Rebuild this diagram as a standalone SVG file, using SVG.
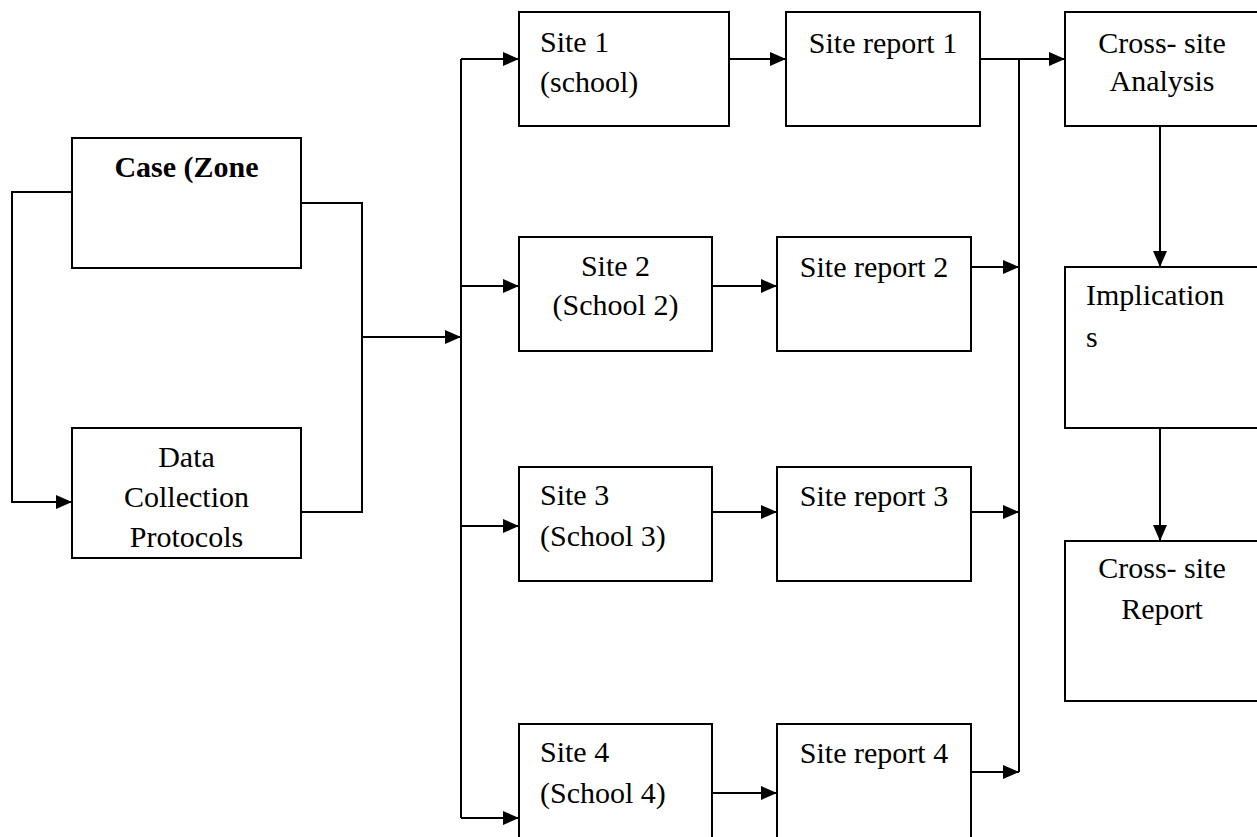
<svg xmlns="http://www.w3.org/2000/svg" width="1257" height="837" viewBox="0 0 1257 837">
<style>
.box{fill:#fff;stroke:#000;stroke-width:2}
.t{font-family:"Liberation Serif","Times New Roman",serif;font-size:30px;fill:#000}
.c{text-anchor:middle}
.b{font-weight:bold}
.ln{fill:none;stroke:#000;stroke-width:2}
.ar{fill:none;stroke:#000;stroke-width:2;marker-end:url(#ah)}
</style>
<defs>
<marker id="ah" viewBox="0 0 16 14" markerWidth="16" markerHeight="14" markerUnits="userSpaceOnUse" refX="16" refY="7" orient="auto">
<path d="M0,0 L16,7 L0,14 z" fill="#000"/>
</marker>
</defs>
<rect width="1257" height="837" fill="#fff"/>
<g id="connectors">
<path class="ar" d="M72,192 H12 V502 H72"/>
<path class="ln" d="M301,203 H362 V512 H301"/>
<path class="ar" d="M362,337 H461"/>
<path class="ln" d="M461,59 V818"/>
<path class="ar" d="M461,59 H519"/>
<path class="ar" d="M461,286 H519"/>
<path class="ar" d="M461,526 H519"/>
<path class="ar" d="M461,818 H519"/>
<path class="ar" d="M729,59 H786"/>
<path class="ar" d="M712,286 H777"/>
<path class="ar" d="M712,512 H777"/>
<path class="ar" d="M712,793 H777"/>
<path class="ar" d="M980,59 H1065"/>
<path class="ln" d="M1019,59 V772"/>
<path class="ar" d="M971,267 H1019"/>
<path class="ar" d="M971,512 H1019"/>
<path class="ar" d="M971,772 H1019"/>
<path class="ar" d="M1160,126 V267"/>
<path class="ar" d="M1160,428 V541"/>
</g>
<g id="case">
<rect class="box" x="72" y="138" width="229" height="130"/>
<text class="t c b" x="186.5" y="177">Case (Zone</text>
</g>
<g id="protocols">
<rect class="box" x="72" y="428" width="229" height="130"/>
<text class="t c" x="186.5" y="467">Data</text>
<text class="t c" x="186.5" y="507">Collection</text>
<text class="t c" x="186.5" y="547">Protocols</text>
</g>
<g id="site1">
<rect class="box" x="519" y="12" width="210" height="114"/>
<text class="t" x="540" y="52">Site 1</text>
<text class="t" x="540" y="92">(school)</text>
</g>
<g id="site2">
<rect class="box" x="519" y="237" width="193" height="114"/>
<text class="t c" x="615.5" y="276">Site 2</text>
<text class="t c" x="615.5" y="315">(School 2)</text>
</g>
<g id="site3">
<rect class="box" x="519" y="467" width="193" height="114"/>
<text class="t" x="540" y="505">Site 3</text>
<text class="t" x="540" y="546">(School 3)</text>
</g>
<g id="site4">
<rect class="box" x="519" y="724" width="193" height="120"/>
<text class="t" x="540" y="762">Site 4</text>
<text class="t" x="540" y="803">(School 4)</text>
</g>
<g id="report1">
<rect class="box" x="786" y="12" width="194" height="114"/>
<text class="t c" x="883" y="53">Site report 1</text>
</g>
<g id="report2">
<rect class="box" x="777" y="237" width="194" height="114"/>
<text class="t c" x="874" y="277">Site report 2</text>
</g>
<g id="report3">
<rect class="box" x="777" y="467" width="194" height="114"/>
<text class="t c" x="874" y="506">Site report 3</text>
</g>
<g id="report4">
<rect class="box" x="777" y="724" width="194" height="120"/>
<text class="t c" x="874" y="763">Site report 4</text>
</g>
<g id="analysis">
<rect class="box" x="1065" y="12" width="194" height="114"/>
<text class="t c" x="1162" y="53">Cross- site</text>
<text class="t c" x="1162" y="91">Analysis</text>
</g>
<g id="implications">
<rect class="box" x="1065" y="267" width="194" height="161"/>
<text class="t" x="1086" y="305">Implication</text>
<text class="t" x="1086" y="347">s</text>
</g>
<g id="crossreport">
<rect class="box" x="1065" y="541" width="194" height="160"/>
<text class="t c" x="1162" y="578">Cross- site</text>
<text class="t c" x="1162" y="619">Report</text>
</g>
</svg>
